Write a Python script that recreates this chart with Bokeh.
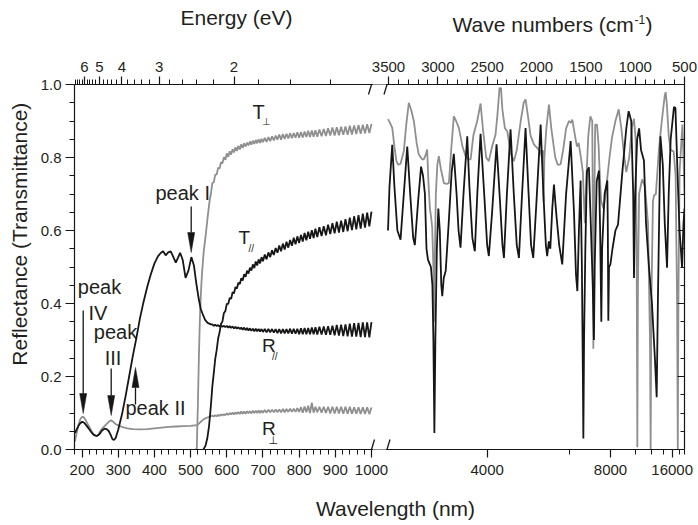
import math
from bokeh.plotting import figure
from bokeh.layouts import column, row
from bokeh.models import (Range1d, LinearAxis, FixedTicker, PrintfTickFormatter,
                          Label, BoxAnnotation, Arrow)
from bokeh.core.properties import value
from bokeh.embed import file_html
from bokeh.resources import INLINE

# ------------------------------------------------------------------
# DATA  (left panel: wavelength in nm ; right panel: wavenumber cm-1)
# ------------------------------------------------------------------
rpar_uv_wl = [180, 185, 190, 195, 200, 205, 210, 218, 225, 232, 240, 248, 255, 262, 268,
              274, 279, 284, 288, 293, 300, 310, 320, 330, 340, 350, 360, 370, 380, 390,
              400, 410, 418, 424, 431, 438, 445, 452, 459, 465, 471, 478, 486, 494, 502,
              509, 515, 522, 528, 533, 540, 547, 556]
rpar_uv = [0.045, 0.055, 0.065, 0.072, 0.076, 0.074, 0.068, 0.058, 0.048, 0.040, 0.037, 0.042,
           0.052, 0.057, 0.056, 0.050, 0.040, 0.028, 0.026, 0.032, 0.055, 0.095, 0.145, 0.200,
           0.255, 0.305, 0.360, 0.405, 0.445, 0.480, 0.510, 0.530, 0.539, 0.543, 0.532, 0.540,
           0.543, 0.528, 0.512, 0.525, 0.539, 0.520, 0.470, 0.490, 0.527, 0.505, 0.460, 0.415,
           0.385, 0.372, 0.355, 0.347, 0.343]

rperp_uv_wl = [180, 185, 190, 195, 200, 205, 210, 218, 225, 232, 240, 245, 250, 256, 262,
               268, 274, 280, 286, 292, 300, 310, 325, 340, 360, 380, 400, 420, 440, 460,
               480, 500, 510, 518, 522, 528, 535, 542, 550, 556]
rperp_uv = [0.022, 0.045, 0.068, 0.083, 0.090, 0.088, 0.080, 0.065, 0.052, 0.042, 0.036, 0.040,
            0.050, 0.058, 0.064, 0.070, 0.076, 0.080, 0.076, 0.070, 0.066, 0.062, 0.058, 0.056,
            0.055, 0.056, 0.058, 0.060, 0.062, 0.063, 0.064, 0.065, 0.066, 0.066, 0.070, 0.076,
            0.082, 0.086, 0.089, 0.091]

tperp_pre_wl = [512, 517, 520, 523, 526, 529, 532, 536, 542, 548, 553, 556]
tperp_pre = [0.0, 0.0, 0.12, 0.26, 0.37, 0.44, 0.49, 0.54, 0.59, 0.645, 0.685, 0.70]

tpar_pre_wl = [535, 541, 546, 551, 556]
tpar_pre = [0.0, 0.01, 0.03, 0.065, 0.12]

# interference-fringe extrema (560 - 1000 nm)
fringe_wl = [560, 564, 568, 572, 576, 580, 584, 588, 592, 596,
             600, 604, 608, 612, 616, 620, 624, 628, 632, 636,
             640, 644, 648, 652, 656, 660, 664, 668, 672, 676,
             680, 684, 688, 692, 696, 700,
             705, 710, 715, 720, 725, 730, 735, 740, 745, 750,
             755, 760, 765, 770, 775, 780, 785, 790, 795, 800,
             805, 810, 815, 820, 825, 830, 835, 840, 845, 850,
             856, 862, 868, 874, 880, 886, 892, 898, 904, 910,
             916, 922, 928, 934, 940, 946, 952, 958, 964, 970,
             976, 982, 988, 994, 1000]
tperp_fr = [.730, .732, .753, .753, .772, .770, .787, .784, .801, .794,
            .811, .802, .817, .808, .823, .814, .828, .818, .832, .822,
            .836, .826, .839, .830, .841, .833, .844, .835, .846, .837,
            .848, .839, .850, .840, .851, .842,
            .854, .843, .856, .845, .858, .847, .860, .849, .863, .849,
            .864, .851, .865, .852, .866, .853, .867, .854, .869, .854,
            .870, .855, .871, .856, .873, .856, .874, .857, .875, .857,
            .877, .858, .878, .859, .880, .860, .882, .860, .883, .861,
            .884, .862, .885, .862, .887, .863, .888, .864, .889, .865,
            .890, .866, .891, .867, .892]
tpar_fr = [.173, .209, .248, .272, .304, .321, .344, .351, .374, .379,
           .399, .399, .415, .413, .431, .428, .445, .441, .457, .453,
           .469, .463, .480, .473, .490, .482, .498, .490, .507, .497,
           .515, .504, .521, .510, .527, .516,
           .534, .521, .540, .527, .546, .533, .552, .539, .559, .543,
           .564, .548, .569, .553, .574, .558, .580, .562, .584, .566,
           .588, .570, .593, .573, .597, .577, .601, .579, .605, .582,
           .609, .585, .612, .587, .616, .590, .620, .592, .624, .594,
           .627, .596, .631, .598, .635, .601, .639, .603, .642, .605,
           .646, .608, .649, .611, .652]
rpar_fr = [.343, .339, .342, .338, .341, .337, .340, .336, .339, .335,
           .339, .334, .338, .333, .337, .332, .336, .331, .335, .330,
           .334, .328, .334, .327, .333, .326, .332, .325, .331, .324,
           .331, .324, .330, .323, .330, .322,
           .330, .321, .330, .321, .330, .320, .330, .319, .330, .318,
           .330, .318, .330, .318, .331, .317, .331, .317, .331, .316,
           .332, .316, .333, .316, .333, .316, .334, .316, .335, .315,
           .336, .315, .337, .314, .338, .314, .339, .313, .341, .312,
           .342, .311, .343, .310, .345, .309, .346, .309, .347, .308,
           .348, .308, .348, .307, .349]
rperp_fr = [.093, .090, .094, .091, .095, .092, .096, .093, .097, .094,
            .099, .095, .100, .096, .101, .096, .102, .097, .103, .097,
            .104, .098, .104, .098, .105, .099, .105, .099, .106, .100,
            .106, .100, .107, .100, .107, .101,
            .108, .101, .109, .102, .109, .102, .110, .102, .110, .102,
            .111, .102, .111, .103, .112, .103, .112, .103, .113, .103,
            .116, .101, .118, .102, .120, .100, .128, .101, .117, .102,
            .117, .101, .117, .100, .117, .099, .117, .099, .117, .099,
            .117, .098, .117, .098, .117, .098, .116, .098, .116, .097,
            .116, .097, .116, .097, .115]

# infrared part (wavenumber, cm-1)
ir_black_wn = [3505, 3490, 3462, 3440, 3410, 3378, 3350, 3310, 3280, 3250, 3233, 3200, 3170,
               3150, 3131, 3115, 3100, 3085, 3070, 3055, 3045, 3035, 3025, 3010, 2995, 2980,
               2965, 2955, 2940, 2920, 2890, 2860, 2838, 2810, 2790, 2770, 2740, 2702, 2680,
               2650, 2625, 2600, 2567, 2530, 2500, 2483, 2450, 2405, 2370, 2345, 2330, 2300,
               2263, 2230, 2200, 2178, 2150, 2111, 2080, 2055, 2033, 2000, 1958, 1930, 1905,
               1892, 1875, 1860, 1840, 1823, 1810, 1796, 1770, 1739, 1700, 1654, 1620, 1600,
               1586, 1570, 1553, 1540, 1530, 1525, 1518, 1505, 1489, 1469, 1450, 1430, 1418,
               1410, 1390, 1367, 1355, 1343, 1335, 1310, 1282, 1277, 1272, 1265, 1251, 1230,
               1200, 1174, 1130, 1090, 1066, 1040, 1020, 1012, 1000, 980, 960, 940, 911, 890,
               860, 830, 800, 782, 770, 744, 720, 700, 677, 660, 640, 607, 592, 570, 550, 525,
               510, 500]
ir_black = [0.60, 0.72, 0.835, 0.72, 0.60, 0.575, 0.68, 0.83, 0.70, 0.58, 0.56, 0.68, 0.775,
            0.75, 0.70, 0.55, 0.52, 0.51, 0.50, 0.45, 0.30, 0.045, 0.30, 0.55, 0.66, 0.60,
            0.45, 0.42, 0.47, 0.49, 0.62, 0.76, 0.81, 0.70, 0.60, 0.553, 0.70, 0.858, 0.72,
            0.58, 0.543, 0.70, 0.865, 0.70, 0.56, 0.53, 0.65, 0.836, 0.68, 0.56, 0.525, 0.70,
            0.877, 0.70, 0.56, 0.525, 0.68, 0.881, 0.70, 0.56, 0.525, 0.68, 0.89, 0.70, 0.56,
            0.53, 0.57, 0.55, 0.66, 0.726, 0.68, 0.635, 0.56, 0.507, 0.70, 0.845, 0.65, 0.48,
            0.434, 0.60, 0.737, 0.50, 0.20, 0.03, 0.30, 0.55, 0.762, 0.773, 0.62, 0.45, 0.30,
            0.50, 0.735, 0.764, 0.60, 0.35, 0.55, 0.70, 0.737, 0.60, 0.353, 0.50, 0.507, 0.55,
            0.60, 0.616, 0.76, 0.88, 0.927, 0.90, 0.70, 0.47, 0.70, 0.85, 0.88, 0.82, 0.792, 0.62,
            0.50, 0.40, 0.25, 0.143, 0.40, 0.858, 0.78, 0.62, 0.498, 0.70, 0.85, 0.938, 0.936,
            0.75, 0.60, 0.50, 0.62, 0.66]

ir_gray_wn = [3505, 3485, 3462, 3440, 3420, 3400, 3378, 3345, 3320, 3294, 3270, 3243, 3215,
              3193, 3160, 3142, 3120, 3108, 3095, 3080, 3065, 3057, 3045, 3040, 3032, 3020,
              3005, 2990, 2970, 2939, 2910, 2888, 2865, 2838, 2815, 2787, 2750, 2719, 2690,
              2668, 2640, 2601, 2567, 2540, 2510, 2483, 2450, 2415, 2395, 2375, 2360, 2345,
              2320, 2296, 2260, 2229, 2200, 2160, 2130, 2111, 2090, 2060, 2026, 1990, 1958,
              1945, 1935, 1928, 1920, 1900, 1874, 1850, 1810, 1785, 1756, 1730, 1700, 1671,
              1650, 1637, 1610, 1590, 1573, 1550, 1530, 1522, 1510, 1495, 1475, 1454, 1435,
              1428, 1424, 1418, 1405, 1387, 1370, 1363, 1345, 1320, 1300, 1286, 1260, 1235,
              1200, 1167, 1140, 1110, 1090, 1060, 1035, 1012, 995, 985, 978, 972, 960, 930,
              900, 870, 850, 843, 836, 820, 809, 790, 760, 730, 700, 691, 680, 660, 640, 610,
              590, 575, 568, 562, 550, 530, 521, 510, 500]
ir_gray = [0.905, 0.895, 0.881, 0.83, 0.79, 0.78, 0.783, 0.817, 0.89, 0.95, 0.93, 0.90, 0.84,
           0.808, 0.795, 0.795, 0.81, 0.822, 0.73, 0.66, 0.63, 0.607, 0.50, 0.35, 0.50, 0.70,
           0.78, 0.804, 0.77, 0.73, 0.728, 0.73, 0.82, 0.913, 0.90, 0.881, 0.83, 0.804, 0.795,
           0.795, 0.86, 0.90, 0.948, 0.87, 0.80, 0.79, 0.83, 0.863, 0.92, 0.99, 0.99, 0.93,
           0.88, 0.872, 0.81, 0.79, 0.82, 0.90, 0.95, 0.959, 0.92, 0.86, 0.836, 0.825, 0.817,
           0.80, 0.82, 0.68, 0.80, 0.88, 0.945, 0.88, 0.80, 0.78, 0.781, 0.82, 0.88, 0.90,
           0.895, 0.904, 0.86, 0.83, 0.84, 0.80, 0.76, 0.70, 0.62, 0.74, 0.86, 0.913, 0.90,
           0.60, 0.276, 0.60, 0.89, 0.89, 0.83, 0.78, 0.68, 0.66, 0.70, 0.735, 0.80, 0.854,
           0.90, 0.932, 0.88, 0.80, 0.76, 0.80, 0.88, 0.906, 0.85, 0.55, 0.006, 0.45, 0.70, 0.74,
           0.72, 0.62, 0.30, 0.0, 0.40, 0.68, 0.696, 0.70, 0.82, 0.90, 0.97, 0.979, 0.95, 0.86,
           0.82, 0.817, 0.75, 0.40, 0.0, 0.40, 0.76, 0.85, 0.89, 0.80, 0.70]

# tick values
nm_major = [200, 300, 400, 500, 600, 700, 800, 900, 1000]
nm_minor = [180, 220, 240, 260, 280, 320, 340, 360, 380, 420, 440, 460, 480, 520, 540, 560,
            580, 620, 640, 660, 680, 720, 740, 760, 780, 820, 840, 860, 880, 920, 940, 960, 980]
ev_major = [2, 3, 4, 5, 6]
ev_minor = [1.4, 1.6, 1.8, 2.2, 2.4, 2.6, 2.8, 3.2, 3.4, 3.6, 3.8, 4.2, 4.4, 4.6, 4.8,
            5.2, 5.4, 5.6, 5.8, 6.2, 6.4, 6.6, 6.8]
wn_major = [3500, 3000, 2500, 2000, 1500, 1000, 500]
wn_minor = [3400, 3300, 3200, 3100, 2900, 2800, 2700, 2600, 2400, 2300, 2200, 2100, 1900,
            1800, 1700, 1600, 1400, 1300, 1200, 1100, 900, 800, 700, 600]
irwl_major = [4000, 8000, 16000]
irwl_minor = [6000, 10000, 12000, 14000, 18000, 20000]
y_major = [0.0, 0.2, 0.4, 0.6, 0.8, 1.0]
y_minor = [0.05, 0.1, 0.15, 0.25, 0.3, 0.35, 0.45, 0.5, 0.55, 0.65, 0.7, 0.75, 0.85, 0.9, 0.95]

# ------------------------------------------------------------------
# LAYOUT (page pixels)
# ------------------------------------------------------------------
FONT = "Liberation Sans"
BLACK = "#161616"
GRAY = "#8f8f8f"
TXT = "#231f20"
PAGE_W, PAGE_H = 697, 524
TOP_H = 50            # strip with the two upper axis titles
LEFT_W = 32           # strip with the y title
BOT_Y = 489           # start of the strip with the x title
FL, FR, FT, FB = 74, 684, 84, 449
FW, FH = FR - FL, FB - FT
NM_LO = 179.0
PX_1000 = 371.0
PPN = (PX_1000 - FL) / (1000.0 - NM_LO)
PX_3500, PX_500 = 388.0, 684.0
PPW = (PX_500 - PX_3500) / 3000.0
SHIFT = 0.36          # rendered baseline sits this many em below the anchor


def xnm(px):
    return NM_LO + (px - FL) / PPN


def yv(py):
    return (FB - py) / FH


def wn_pos(w):
    return round(xnm(PX_3500 + (3500.0 - w) * PPW), 5)


def ev_pos(e):
    return round(1239.84 / e, 5)


X_END = round(xnm(FR), 5) + 0.001

p = figure(frame_width=FW, frame_height=FH,
           x_range=Range1d(NM_LO, X_END), y_range=Range1d(0, 1),
           output_backend="svg", toolbar_location=None, title_location=None,
           x_axis_location=None, y_axis_location=None,
           min_border_left=FL - LEFT_W, min_border_top=FT - TOP_H,
           min_border_right=PAGE_W - FR, min_border_bottom=BOT_Y - FB)
p.extra_x_ranges = {"wn": Range1d(3500.0 + (PX_3500 - FL) / PPW, 500.0)}
p.xgrid.visible = False
p.ygrid.visible = False
p.outline_line_color = None
p.background_fill_color = "white"
p.border_fill_color = "white"


def style(ax, mo=8, mi=0, no=4, ni=0, size="15px"):
    ax.axis_line_color = BLACK
    ax.axis_line_width = 1.2
    ax.major_tick_line_color = BLACK
    ax.minor_tick_line_color = BLACK
    ax.major_tick_line_width = 1.2
    ax.minor_tick_line_width = 1.0
    ax.major_tick_out = mo
    ax.major_tick_in = mi
    ax.minor_tick_out = no
    ax.minor_tick_in = ni
    ax.major_label_text_font = FONT
    ax.major_label_text_font_size = size
    ax.major_label_text_color = TXT


# bottom axis: nm (left) + wavelength of IR part (right)
b_ticks = [float(v) for v in nm_major] + [wn_pos(1e7 / w) for w in irwl_major]
b_minor = [float(v) for v in nm_minor] + [wn_pos(1e7 / w) for w in irwl_minor]
b_labels = [str(v) for v in nm_major] + [str(v) for v in irwl_major]
bax = LinearAxis(ticker=FixedTicker(ticks=b_ticks, minor_ticks=b_minor),
                 major_label_overrides={t: s for t, s in zip(b_ticks, b_labels)})
style(bax, mo=8, no=5)
bax.major_label_standoff = 7
p.add_layout(bax, "below")

# top axis: energy (left) + wavenumber (right)
t_ticks = [ev_pos(e) for e in ev_major] + [wn_pos(w) for w in wn_major]
t_minor = [ev_pos(e) for e in ev_minor] + [wn_pos(w) for w in wn_minor]
t_labels = [str(e) for e in ev_major] + [str(w) for w in wn_major]
tax = LinearAxis(ticker=FixedTicker(ticks=t_ticks, minor_ticks=t_minor),
                 major_label_overrides={t: s for t, s in zip(t_ticks, t_labels)})
style(tax, mo=8, no=5)
tax.major_label_standoff = 5
p.add_layout(tax, "above")

lax = LinearAxis(ticker=FixedTicker(ticks=y_major, minor_ticks=y_minor),
                 formatter=PrintfTickFormatter(format="%.1f"))
style(lax, mo=9, no=5)
lax.major_label_standoff = 4
p.add_layout(lax, "left")

rax = LinearAxis(ticker=FixedTicker(ticks=y_major, minor_ticks=y_minor),
                 major_label_overrides={t: "" for t in y_major})
style(rax, mo=0, mi=7, no=0, ni=4)
rax.major_label_standoff = 0
p.add_layout(rax, "right")

# ------------------------------------------------------------------
# CURVES
# ------------------------------------------------------------------
LW = 1.8
p.line(rperp_uv_wl + fringe_wl, rperp_uv + rperp_fr, line_color=GRAY, line_width=LW)
p.line(tperp_pre_wl + fringe_wl, tperp_pre + tperp_fr, line_color=GRAY, line_width=LW)
p.line(rpar_uv_wl + fringe_wl, rpar_uv + rpar_fr, line_color=BLACK, line_width=LW)
p.line(tpar_pre_wl + fringe_wl, tpar_pre + tpar_fr, line_color=BLACK, line_width=LW)

p.line(ir_gray_wn, ir_gray, x_range_name="wn", line_color=GRAY, line_width=LW)
p.line(ir_black_wn, ir_black, x_range_name="wn", line_color=BLACK, line_width=LW)

# ------------------------------------------------------------------
# AXIS BREAKS
# ------------------------------------------------------------------
for top_, bot_ in [(FT - 6, FT + 3), (FB - 3, FB + 6)]:
    p.add_layout(BoxAnnotation(left=xnm(372.5), right=xnm(385.5), top=yv(top_), bottom=yv(bot_),
                               fill_color="white", fill_alpha=1.0, line_color=None,
                               level="overlay"))
for cy in (FT, FB):
    for cx in (371, 386.5):
        p.add_layout(Arrow(x_start=xnm(cx - 3), y_start=yv(cy + 10), x_end=xnm(cx + 3),
                           y_end=yv(cy - 10), start=None, end=None, line_color=BLACK,
                           line_width=1.3, level="overlay"))

# ------------------------------------------------------------------
# ANNOTATIONS INSIDE THE FRAME  (py = wanted baseline, page px)
# ------------------------------------------------------------------


def lab(text, px, py, size, align="left", font=FONT):
    p.add_layout(Label(x=xnm(px), y=yv(py - SHIFT * size), text=text, text_font=font,
                       text_font_size=f"{size}px", text_align=align,
                       text_baseline="alphabetic", text_color=TXT))


lab("peak I", 155, 200, 20)
lab("peak", 99, 294, 20, align="center")
lab("IV", 97.5, 320, 20, align="center")
lab("peak", 115, 339, 20, align="center")
lab("III", 112.5, 365, 20, align="center")
lab("peak II", 125, 415, 20)

lab("T", 252, 119, 20)
lab("\u22a5", 261.5, 124.5, 10, font="DejaVu Sans")
lab("T", 238, 244, 19)
lab("//", 248, 252, 10)
lab("R", 261.5, 352, 19)
lab("//", 271.5, 360, 10)
lab("R", 261.5, 435, 19)
lab("\u22a5", 268, 443.5, 11, font="DejaVu Sans")

# arrows (page px): x, tail, tip
HEAD_L, HEAD_HW = 20, 3.5
for ax_, t0, t1 in [(82.7, 310, 413), (110.7, 368, 415), (190.7, 206, 252), (135, 404, 367)]:
    d = 1 if t1 > t0 else -1
    base = t1 - d * HEAD_L
    p.segment(x0=[xnm(ax_)], y0=[yv(t0)], x1=[xnm(ax_)], y1=[yv(base)],
              line_color=BLACK, line_width=1.3)
    p.patch([xnm(ax_ - HEAD_HW), xnm(ax_ + HEAD_HW), xnm(ax_)], [yv(base), yv(base), yv(t1)],
            fill_color=BLACK, line_color=BLACK, line_width=0.5)

# ------------------------------------------------------------------
# TITLE STRIPS (axis titles placed outside the main frame)
# ------------------------------------------------------------------


def strip(w, h, x0, x1, y0, y1):
    s = figure(width=w, height=h, x_range=Range1d(x0, x1), y_range=Range1d(y1, y0),
               output_backend="svg", toolbar_location=None, title_location=None,
               x_axis_location=None, y_axis_location=None,
               min_border=0, min_border_left=0, min_border_right=0,
               min_border_top=0, min_border_bottom=0)
    s.xgrid.visible = False
    s.ygrid.visible = False
    s.outline_line_color = None
    s.background_fill_color = "white"
    s.border_fill_color = "white"
    return s


def stext(s, x, y, t, size, align="left"):
    s.text(x=[x], y=[y - SHIFT * size], text=[t], text_font=value(FONT),
           text_font_size=f"{size}px", text_align=align, text_baseline="alphabetic",
           text_color=TXT)


top = strip(PAGE_W, TOP_H, 0, PAGE_W, 0, TOP_H)
stext(top, 180, 25, "Energy (eV)", 21)
stext(top, 452, 32, "Wave numbers (cm", 21)
stext(top, 634, 23, "-1", 12)
stext(top, 645, 32, ")", 21)

main_h = BOT_Y - TOP_H
left = strip(LEFT_W, main_h, 0, LEFT_W, TOP_H, BOT_Y)
left.text(x=[19], y=[230], text=["Reflectance (Transmittance)"], text_font=value(FONT),
          text_font_size="21px", text_align="center", text_baseline="middle",
          text_color=TXT, angle=math.pi / 2)

bottom = strip(PAGE_W, PAGE_H - BOT_Y, 0, PAGE_W, BOT_Y, PAGE_H)
stext(bottom, 395, 516, "Wavelength (nm)", 21, align="center")

layout = column(top, row(left, p), bottom)
open("out.html", "w").write(file_html(layout, INLINE))
